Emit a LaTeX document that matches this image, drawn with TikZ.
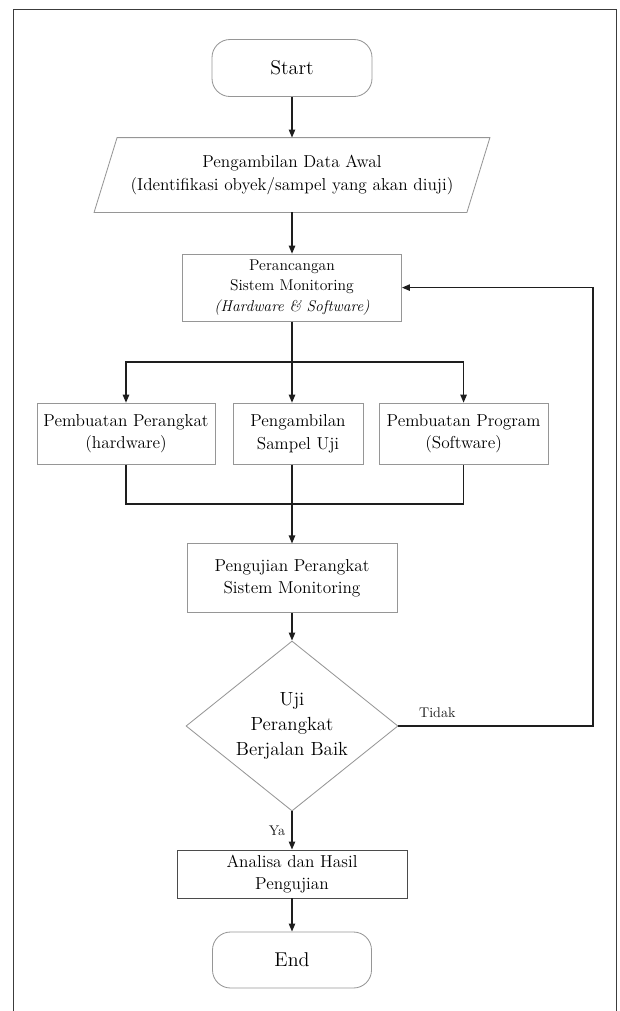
\documentclass[tikz,border=0pt]{standalone}
\usepackage{tikz}
\usetikzlibrary{arrows.meta,positioning,calc,shapes.geometric}
\definecolor{ink}{RGB}{30,30,30}
\definecolor{frame}{RGB}{60,60,60}
\definecolor{edge}{RGB}{150,150,150}
\tikzset{
  box/.style={draw=edge, line width=0.6pt, align=center, inner sep=1mm, font=\fontsize{12.3}{16}\selectfont},
  term/.style={box, rounded corners=4.5mm, minimum width=4cm, minimum height=1.425cm, font=\fontsize{14.2}{17}\selectfont},
  io/.style={box, draw=none, minimum width=9.3cm, minimum height=1.85cm},
  slant/.style={draw=edge, line width=0.6pt},
  decision/.style={box, diamond, aspect=1.25, minimum width=5.3cm, minimum height=4.25cm, inner sep=0pt, font=\fontsize{13.5}{17.8}\selectfont},
  flow/.style={-{Triangle[length=2mm,width=1.6mm]}, line width=0.9pt, draw=ink},
  line/.style={line width=0.9pt, draw=ink},
  label/.style={font=\fontsize{10}{12}\selectfont, text=ink}
}
\begin{document}
\begin{tikzpicture}
  \useasboundingbox (0,0) rectangle (15.5,-25.275);
  \draw[frame, line width=0.7pt] (0.325,-25.275) -- (0.325,-0.225) -- (15.4,-0.225) -- (15.4,-25.275);
  % main column
  \node[term] (start) at (7.3,-1.7) {Start};
  \node[io] (data) at (7.3,-4.375) {Pengambilan Data Awal\\(Identifikasi obyek/sampel yang akan diuji)};
  \draw[slant] ([xshift=2.875mm]data.north west) -- ([xshift=2.875mm]data.north east)
    -- ([xshift=-2.875mm]data.south east) -- ([xshift=-2.875mm]data.south west) -- cycle;
  \node[box, minimum width=5.475cm, minimum height=1.675cm, font=\fontsize{11.1}{14.6}\selectfont] (plan) at (7.3,-7.19)
    {Perancangan\\Sistem Monitoring\\\textit{(Hardware \& Software)}};
  \coordinate (fork) at (7.3,-9.05);
  \node[box, minimum width=4.45cm, minimum height=1.525cm] (hw) at (3.15,-10.84) {Pembuatan Perangkat\\(hardware)};
  \node[box, minimum width=3.25cm, minimum height=1.525cm] (smp) at (7.45,-10.84) {Pengambilan\\Sampel Uji};
  \node[box, minimum width=4.225cm, minimum height=1.525cm] (sw) at (11.59,-10.84) {Pembuatan Program\\(Software)};
  \coordinate (join) at (7.3,-12.6);
  \node[box, minimum width=5.25cm, minimum height=1.725cm] (test) at (7.3,-14.46) {Pengujian Perangkat\\Sistem Monitoring};
  \node[decision] (cek) at (7.3,-18.15) {Uji\\Perangkat\\Berjalan Baik};
  \node[box, draw=ink!80, minimum width=5.75cm, minimum height=1.2cm] (result) at (7.3,-21.85) {Analisa dan Hasil\\Pengujian};
  \node[term, minimum width=3.975cm, minimum height=1.4cm] (finish) at (7.3,-24.0) {End};
  \coordinate (back) at (14.825,-18.15);
  % connectors
  \draw[flow] (start) -- (data);
  \draw[flow] (data) -- (plan);
  \draw[line] (plan) -- (fork);
  \draw[flow] (fork) -- (fork |- smp.north);
  \draw[flow] (fork) -| (hw);
  \draw[flow] (fork) -| (sw);
  \draw[line] (hw) |- (join) -| (sw);
  \draw[line] (smp.south -| join) -- (join);
  \draw[flow] (join) -- (test);
  \draw[flow] (test) -- (cek);
  \draw[flow] (cek) -- node[label, left=1pt]{Ya} (result);
  \draw[flow] (result) -- (finish);
  \draw[flow] (cek.east) -- node[label, above=2pt, pos=0.2]{Tidak} (back) |- (plan.east);
\end{tikzpicture}
\end{document}
